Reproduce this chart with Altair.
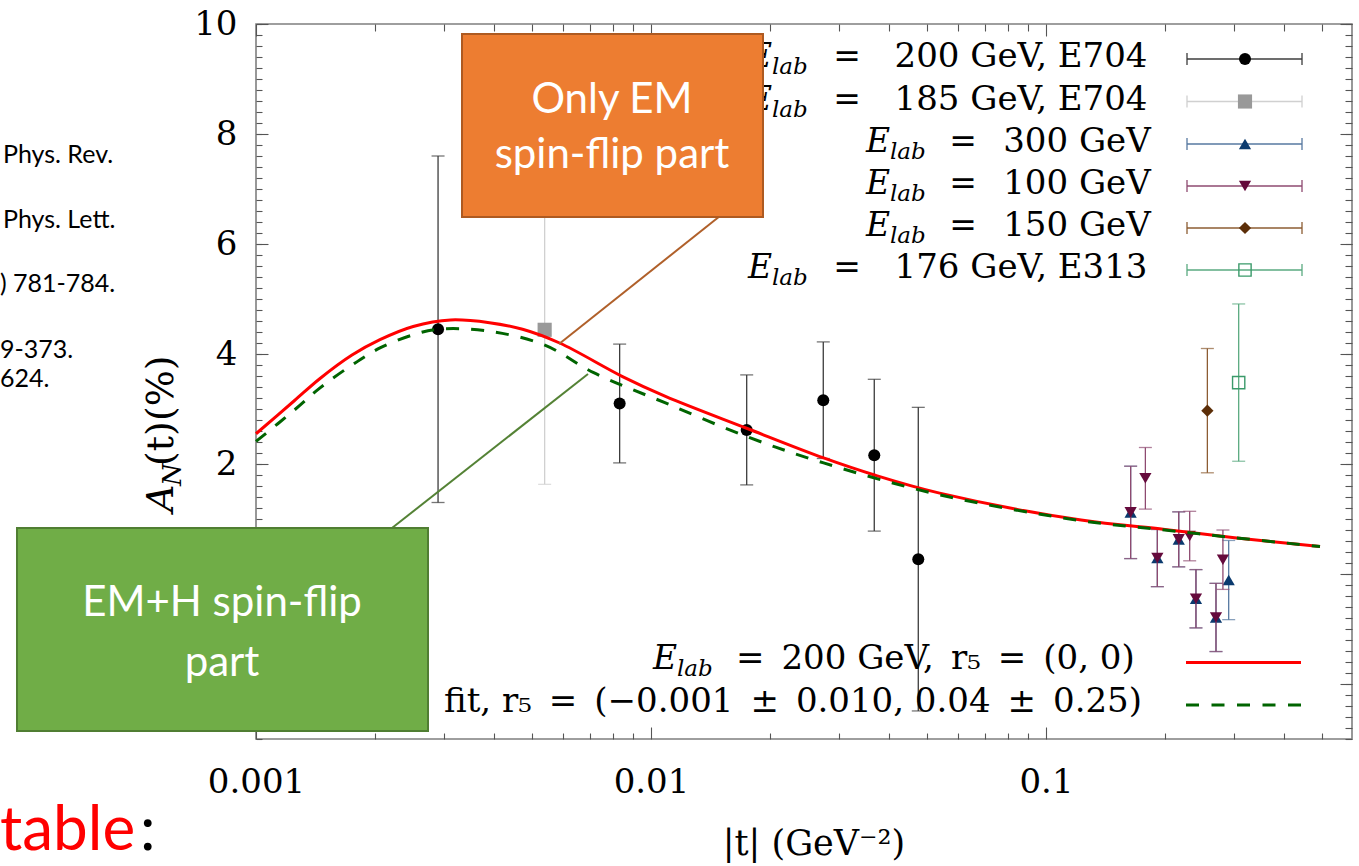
import altair as alt
import pandas as pd

# ---------------- layout (plot area in page pixels) ----------------
OX, OY = 256, 24          # top-left corner of plot frame
W, H = 1096, 715          # plot frame size

# ---------------- data ----------------
# E_lab = 200 GeV, E704 (black circles)
t_200 = [0.00289, 0.00833, 0.01747, 0.0273, 0.03675, 0.0475]
a_200 = [4.45, 3.10, 2.62, 3.16, 2.16, 0.27]
e_200 = [3.15, 1.08, 1.00, 1.06, 1.38, 2.76]
# E_lab = 185 GeV, E704 (grey square)
t_185 = [0.00538]
a_185 = [4.44]
e_185 = [2.81]
# E_lab = 300 GeV (blue up-triangles)
t_300 = [0.1638, 0.1914, 0.2168, 0.2397, 0.2694, 0.2901]
a_300 = [1.12, 0.29, 0.63, -0.45, -0.79, -0.11]
e_300 = [0.84, 0.52, 0.50, 0.53, 0.62, 0.72]
# E_lab = 100 GeV (maroon down-triangles)
t_100 = [0.1638, 0.1785, 0.1914, 0.2168, 0.2311, 0.2397, 0.2694, 0.2805]
a_100 = [1.12, 1.74, 0.29, 0.63, 0.69, -0.45, -0.79, 0.26]
e_100 = [0.84, 0.56, 0.52, 0.50, 0.45, 0.53, 0.62, 0.54]
# E_lab = 150 GeV (brown diamond)
t_150 = [0.2562]
a_150 = [2.97]
e_150 = [1.13]
# E_lab = 176 GeV, E313 (open green square)
t_176 = [0.3075]
a_176 = [3.48]
e_176 = [1.43]

# theory curves
t_red = [0.001, 0.00125, 0.00145, 0.00175, 0.00206, 0.0025, 0.00311, 0.0039, 0.00473,
         0.00587, 0.00847, 0.01088, 0.01746, 0.02735, 0.0368, 0.0538, 0.1227, 0.2, 0.3, 0.494]
a_red = [2.55, 3.15, 3.55, 3.98, 4.26, 4.50, 4.62, 4.57, 4.45,
         4.20, 3.59, 3.23, 2.65, 2.11, 1.80, 1.47, 0.98, 0.81, 0.66, 0.50]
t_grn = [0.001, 0.00125, 0.00145, 0.00175, 0.00206, 0.0025, 0.00289, 0.00384, 0.00535,
         0.00716, 0.01088, 0.01746, 0.02735, 0.0538, 0.1227, 0.2, 0.3, 0.494]
a_grn = [2.41, 2.98, 3.38, 3.80, 4.11, 4.35, 4.45, 4.42, 4.17,
         3.66, 3.11, 2.50, 2.02, 1.44, 0.97, 0.80, 0.66, 0.50]

# axis ticks
x_major = [0.001, 0.01, 0.1]
x_minor = [0.002, 0.003, 0.004, 0.005, 0.006, 0.007, 0.008, 0.009,
           0.02, 0.03, 0.04, 0.05, 0.06, 0.07, 0.08, 0.09,
           0.2, 0.3, 0.4, 0.5]
y_major = [-2, 0, 2, 4, 6, 8, 10]
y_minor = [round(-3 + 0.2 * k, 1) for k in range(66)]

# legend / annotation text
leg_vals = ["200 GeV, E704", "185 GeV, E704", "300 GeV", "100 GeV", "150 GeV", "176 GeV, E313"]
left_notes = ["Phys. Rev.", "Phys. Lett.", ") 781-784.", "9-373.", "624."]

xs = alt.Scale(type="log", domain=[0.001, 0.5953], nice=False)
ys = alt.Scale(domain=[-3, 10], nice=False, zero=False)
ONE = pd.DataFrame({"k": [0]})
SERIF = "DejaVu Serif"
SANS = "Lato"
EN = "\u2002"


def X(f="t"):
    return alt.X(f + ":Q", scale=xs, axis=None)


def Y(f="a"):
    return alt.Y(f + ":Q", scale=ys, axis=None)


def px(x, y):
    return dict(x=alt.value(x - OX), y=alt.value(y - OY))


def txt(s, x, y, size, font=SERIF, color="black", align="center",
        baseline="alphabetic", style="normal", angle=0):
    return alt.Chart(ONE).mark_text(
        text=s, font=font, fontSize=size, color=color, align=align,
        baseline=baseline, fontStyle=style, angle=angle
    ).encode(**px(x, y))


def seg(x1, y1, x2, y2, color, w=1.2, dash=None):
    kw = dict(color=color, strokeWidth=w)
    if dash:
        kw["strokeDash"] = dash
    return alt.Chart(ONE).mark_rule(**kw).encode(
        x=alt.value(x1 - OX), y=alt.value(y1 - OY),
        x2=alt.value(x2 - OX), y2=alt.value(y2 - OY))


def box(x1, y1, x2, y2, fill, stroke):
    return alt.Chart(ONE).mark_rect(fill=fill, stroke=stroke, strokeWidth=2).encode(
        x=alt.value(x1 - OX), y=alt.value(y1 - OY),
        x2=alt.value(x2 - OX), y2=alt.value(y2 - OY))


def marker(x, y, shape, color, size, filled=True):
    return alt.Chart(ONE).mark_point(shape=shape, filled=filled, size=size, color=color,
                                     opacity=1, strokeWidth=1.4).encode(**px(x, y))


def series(t, a, e, shape, mcol, bcol, size, filled=True):
    df = pd.DataFrame({"t": t, "a": a,
                       "lo": [ai - ei for ai, ei in zip(a, e)],
                       "hi": [ai + ei for ai, ei in zip(a, e)]})
    base = alt.Chart(df)
    bars = base.mark_rule(color=bcol, strokeWidth=1.3).encode(x=X(), y=Y("lo"), y2="hi:Q")
    c1 = base.mark_tick(orient="horizontal", color=bcol, size=13, thickness=1.3).encode(x=X(), y=Y("lo"))
    c2 = base.mark_tick(orient="horizontal", color=bcol, size=13, thickness=1.3).encode(x=X(), y=Y("hi"))
    pts = base.mark_point(shape=shape, filled=filled, size=size, color=mcol, opacity=1,
                          strokeWidth=1.4).encode(x=X(), y=Y())
    return [bars, c1, c2, pts]


# ---------------- axes (inward ticks on all four sides) ----------------
def ax(orient, values, size, labels=False, **kw):
    return alt.Axis(orient=orient, values=values, tickSize=size, offset=-size,
                    domain=False, grid=False, ticks=True, tickColor="#555555",
                    tickWidth=1.1, labels=labels, title=None, **kw)


lab = dict(labelFont=SERIF, labelFontSize=34, labelColor="black",
           labelFlush=False, labelOverlap=False)
carrier = alt.Chart(pd.DataFrame({"t": [0.01], "a": [0.0]})).mark_point(opacity=0)
axes = [
    carrier.encode(
        x=alt.X("t:Q", scale=xs, axis=ax("bottom", x_major, 12, True, format="~g", labelPadding=26, **lab)),
        # labels -2 and 0 sit under the green box in the reference
        y=alt.Y("a:Q", scale=ys, axis=ax("left", y_major, 12, True, labelPadding=19,
                                         labelExpr="datum.value < 1 ? '' : datum.label", **lab))),
    carrier.encode(
        x=alt.X("t:Q", scale=xs, axis=ax("bottom", x_minor, 6)),
        y=alt.Y("a:Q", scale=ys, axis=ax("left", y_minor, 6))),
    carrier.encode(
        x=alt.X("t:Q", scale=xs, axis=ax("top", x_major, 12)),
        y=alt.Y("a:Q", scale=ys, axis=ax("right", y_major, 12))),
    carrier.encode(
        x=alt.X("t:Q", scale=xs, axis=ax("top", x_minor, 7)),
        y=alt.Y("a:Q", scale=ys, axis=ax("right", y_minor, 7))),
]

# ---------------- data layers ----------------
C200, B200 = "#000000", "#3c3c3c"
C185, B185 = "#999999", "#d0d0d0"
C300, B300 = "#0b3a6e", "#5678a0"
C100, B100 = "#650a3c", "#8e4a70"
C150, B150 = "#5c2e08", "#8c5c32"
C176, B176 = "#3a9a6a", "#5aaa80"

data_layers = []
data_layers += series(t_185, a_185, e_185, "square", C185, B185, 200)
data_layers += series(t_200, a_200, e_200, "circle", C200, B200, 145)
data_layers += series(t_300, a_300, e_300, "triangle-up", C300, B300, 150)
data_layers += series(t_100, a_100, e_100, "triangle-down", C100, B100, 150)
data_layers += series(t_150, a_150, e_150, "diamond", C150, B150, 150)
data_layers += series(t_176, a_176, e_176, "square", C176, B176, 150, filled=False)

red = alt.Chart(pd.DataFrame({"t": t_red, "a": a_red})).mark_line(
    color="#ff0000", strokeWidth=3, interpolate="catmull-rom").encode(x=X(), y=Y())
grn = alt.Chart(pd.DataFrame({"t": t_grn, "a": a_grn})).mark_line(
    color="#006400", strokeWidth=3, strokeDash=[13, 12], interpolate="catmull-rom").encode(x=X(), y=Y())

# ---------------- legend (drawn inside the frame) ----------------
leg = []
row_y = [59, 101.5, 144, 186, 228, 270]
styles = [("circle", C200, B200, 145, True), ("square", C185, B185, 200, True),
          ("triangle-up", C300, B300, 150, True), ("triangle-down", C100, B100, 150, True),
          ("diamond", C150, B150, 150, True), ("square", C176, B176, 150, False)]
for i, (yy, v, st) in enumerate(zip(row_y, leg_vals, styles)):
    wide = i in (0, 1, 5)
    xE, xeq, xval = (748, 847, 1021) if wide else (866, 963, 1077)
    base_y = yy + 8
    leg.append(txt("E", xE, base_y, 33, style="italic", align="left"))
    leg.append(txt("lab", xE + 24, base_y + 7, 23, style="italic", align="left"))
    leg.append(txt("=", xeq, base_y, 33))
    leg.append(txt(v, xval, base_y, 34))
    shape, mc, bc, sz, fl = st
    leg.append(seg(1187, yy, 1302, yy, bc, 1.3))
    leg.append(seg(1187, yy - 6, 1187, yy + 6, bc, 1.3))
    leg.append(seg(1302, yy - 6, 1302, yy + 6, bc, 1.3))
    leg.append(marker(1245, yy, shape, mc, sz, fl))

leg.append(txt("E", 653, 669, 33, style="italic", align="left"))
leg.append(txt("lab", 677, 676, 23, style="italic", align="left"))
leg.append(txt("=" + EN + "200 GeV," + EN + "r\u2085" + EN + "=" + EN + "(0, 0)", 736, 669, 34, align="left"))
leg.append(seg(1186, 662.5, 1301, 662.5, "#ff0000", 3.2))
leg.append(txt("fit, r\u2085" + EN + "=" + EN + "(\u22120.001" + EN + "\u00b1" + EN + "0.010, 0.04"
               + EN + "\u00b1" + EN + "0.25)", 1142, 712, 34, align="right"))
leg.append(seg(1186, 705, 1301, 705, "#006400", 3.2, dash=[13, 12.5]))

# ---------------- axis titles ----------------
titles = [
    txt("|t| (GeV\u207b\u00b2)", 814, 855, 35),
    txt("A", 173, 512, 38, style="italic", align="left", angle=270),
    txt("N", 181, 486, 26, style="italic", align="left", angle=270),
    txt("(t)(%)", 173, 466, 38, align="left", angle=270),
]

# ---------------- slide elements around the figure ----------------
slide = []
for s, yb, xl in zip(left_notes, [163, 228, 292, 358, 387], [3, 3, 0, 0, 0]):
    slide.append(txt(s, xl, yb, 25, font=SANS, align="left"))
slide.append(txt("table", 0, 850, 62, font=SANS, color="#ff0000", align="left"))
slide.append(txt(":", 140, 850, 62, font=SANS, align="left"))

annot = [
    seg(720, 216, 559, 344, "#b0602a", 2),
    seg(392, 528, 588, 374, "#548235", 2),
    box(462, 34, 763, 217, "#ed7d31", "#ae5a21"),
    txt("Only EM", 612, 100, 42, font=SANS, color="white", baseline="middle"),
    txt("spin-flip part", 612, 155, 42, font=SANS, color="white", baseline="middle"),
    box(17, 528, 428, 731, "#70ad47", "#507e32"),
    txt("EM+H spin-flip", 222, 603, 42, font=SANS, color="white", baseline="middle"),
    txt("part", 222, 663, 42, font=SANS, color="white", baseline="middle"),
]

chart = alt.layer(*axes, *data_layers, red, grn, *leg, *titles, *slide, *annot).resolve_axis(
    x="independent", y="independent"
).properties(
    width=W, height=H,
    autosize=alt.AutoSizeParams(type="none"),
    padding={"left": OX, "top": OY, "right": 1359 - OX - W, "bottom": 866 - OY - H},
    background="white",
).configure_view(stroke="#7f7f7f", strokeWidth=1.6)

chart.save("out.html", embed_options={"renderer": "svg", "actions": False})
